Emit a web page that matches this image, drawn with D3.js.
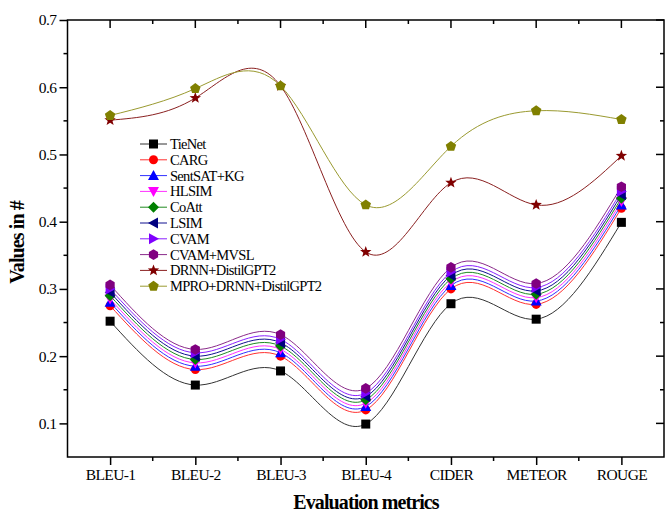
<!DOCTYPE html>
<html>
<head>
<meta charset="utf-8">
<script src="https://cdn.jsdelivr.net/npm/d3@7"></script>
<style>
body { margin: 0; background: #fff; }
svg text { font-family: "Liberation Serif", "Times New Roman", serif; }
</style>
</head>
<body>
<svg id="chart" width="665" height="515"></svg>
<script>
// categories on the x axis
var metrics = ["BLEU-1", "BLEU-2", "BLEU-3", "BLEU-4", "CIDER", "METEOR", "ROUGE"];
var yTicks = [0.1, 0.2, 0.3, 0.4, 0.5, 0.6, 0.7];

// values, one array per model
var tieNet    = [0.252, 0.157, 0.178, 0.099, 0.278, 0.255, 0.399];
var carg      = [0.275, 0.180, 0.200, 0.120, 0.300, 0.277, 0.420];
var sentSat   = [0.280, 0.185, 0.205, 0.125, 0.305, 0.282, 0.425];
var hlstm     = [0.285, 0.190, 0.210, 0.130, 0.310, 0.287, 0.430];
var coAtt     = [0.290, 0.195, 0.215, 0.135, 0.315, 0.292, 0.435];
var lstm      = [0.295, 0.200, 0.220, 0.140, 0.320, 0.297, 0.440];
var cvam      = [0.300, 0.205, 0.225, 0.145, 0.325, 0.302, 0.445];
var cvamMvsl  = [0.306, 0.210, 0.232, 0.152, 0.332, 0.308, 0.452];
var drnn      = [0.551, 0.584, 0.602, 0.355, 0.458, 0.425, 0.498];
var mpro      = [0.558, 0.598, 0.602, 0.425, 0.512, 0.565, 0.552];

var series = [
  {name: "TieNet", values: tieNet, color: "#000000", line: "#333333", sym: "square"},
  {name: "CARG", values: carg, color: "#ff0000", line: "#ff3030", sym: "circle"},
  {name: "SentSAT+KG", values: sentSat, color: "#0000ff", line: "#3030ff", sym: "tri"},
  {name: "HLSIM", values: hlstm, color: "#ff00ff", line: "#ff30ff", sym: "tridown"},
  {name: "CoAtt", values: coAtt, color: "#008000", line: "#208a20", sym: "diamond"},
  {name: "LSIM", values: lstm, color: "#000080", line: "#101090", sym: "trileft"},
  {name: "CVAM", values: cvam, color: "#8000ff", line: "#8a20ff", sym: "triright"},
  {name: "CVAM+MVSL", values: cvamMvsl, color: "#800080", line: "#8a2a8a", sym: "hex"},
  {name: "DRNN+DistilGPT2", values: drnn, color: "#800000", line: "#8a2020", sym: "star"},
  {name: "MPRO+DRNN+DistilGPT2", values: mpro, color: "#808000", line: "#9a9a30", sym: "penta"}
];

var svg = d3.select("#chart");
var plotL = 67.5, plotR = 664, plotT = 20, plotB = 457;

var x = d3.scalePoint().domain(metrics).range([plotL, plotR]).padding(0.5);
var y = d3.scaleLinear().domain([0.05, 0.7]).range([plotB, plotT]);
var step = x.step();

// symbol path generator
function symbolPath(sym, s) {
  var p = d3.path();
  function poly(pts) {
    p.moveTo(pts[0][0], pts[0][1]);
    for (var i = 1; i < pts.length; i++) p.lineTo(pts[i][0], pts[i][1]);
    p.closePath();
  }
  function reg(n, r, rot) {
    var pts = [];
    for (var i = 0; i < n; i++) {
      var a = rot + i * 2 * Math.PI / n;
      pts.push([r * Math.cos(a), r * Math.sin(a)]);
    }
    return pts;
  }
  var h = s / 2;
  if (sym == "square") poly([[-h, -h], [h, -h], [h, h], [-h, h]]);
  else if (sym == "circle") { p.arc(0, 0, h, 0, 2 * Math.PI); }
  else if (sym == "tri") poly([[0, -h - 1], [h + 1, h], [-h - 1, h]]);
  else if (sym == "tridown") poly([[0, h + 1], [h + 1, -h], [-h - 1, -h]]);
  else if (sym == "trileft") poly([[-h - 1, 0], [h, -h - 1], [h, h + 1]]);
  else if (sym == "triright") poly([[h + 1, 0], [-h, -h - 1], [-h, h + 1]]);
  else if (sym == "diamond") poly([[0, -h - 1], [h + 1, 0], [0, h + 1], [-h - 1, 0]]);
  else if (sym == "hex") poly(reg(6, h + 0.8, -Math.PI / 2));
  else if (sym == "penta") poly(reg(5, h + 1, -Math.PI / 2));
  else if (sym == "star") {
    var pts = [];
    for (var i = 0; i < 10; i++) {
      var r = i % 2 == 0 ? h + 1.5 : (h + 1.5) * 0.42;
      var a = -Math.PI / 2 + i * Math.PI / 5;
      pts.push([r * Math.cos(a), r * Math.sin(a)]);
    }
    poly(pts);
  }
  return p.toString();
}

var line = d3.line()
  .x(function (d, i) { return x(metrics[i]); })
  .y(function (d) { return y(d); })
  .curve(d3.curveNatural);

// lines
series.forEach(function (s) {
  svg.append("path").attr("d", line(s.values))
    .attr("fill", "none").attr("stroke", s.line).attr("stroke-width", 1);
});
// markers
series.forEach(function (s) {
  svg.append("g").selectAll("path").data(s.values).enter().append("path")
    .attr("transform", function (d, i) { return "translate(" + x(metrics[i]) + "," + y(d) + ")"; })
    .attr("d", symbolPath(s.sym, 9))
    .attr("fill", s.color);
});

// frame
svg.append("rect").attr("x", plotL).attr("y", plotT).attr("width", plotR - plotL).attr("height", plotB - plotT)
  .attr("fill", "none").attr("stroke", "#000").attr("stroke-width", 1.5);

var minorX = metrics.slice(0, -1).map(function (m) { return x(m) + step / 2; });
var minorY = [0.15, 0.25, 0.35, 0.45, 0.55, 0.65];

// bottom axis
var xAxis = svg.append("g").attr("transform", "translate(0," + plotB + ")")
  .call(d3.axisBottom(x).tickSize(8).tickPadding(4));
xAxis.select(".domain").remove();
xAxis.selectAll("line").attr("stroke-width", 1.5);
xAxis.selectAll("text").attr("font-size", 15.5).attr("fill", "#000").attr("letter-spacing", "-0.6px");
minorX.forEach(function (mx) {
  svg.append("line").attr("x1", mx).attr("x2", mx).attr("y1", plotB).attr("y2", plotB + 4)
    .attr("stroke", "#000").attr("stroke-width", 1.5);
});

// top ticks inward
metrics.forEach(function (m) {
  svg.append("line").attr("x1", x(m)).attr("x2", x(m)).attr("y1", plotT).attr("y2", plotT + 8)
    .attr("stroke", "#000").attr("stroke-width", 1.5);
});
minorX.forEach(function (mx) {
  svg.append("line").attr("x1", mx).attr("x2", mx).attr("y1", plotT).attr("y2", plotT + 4)
    .attr("stroke", "#000").attr("stroke-width", 1.5);
});

// left axis
var yAxis = svg.append("g").attr("transform", "translate(" + plotL + ",0)")
  .call(d3.axisLeft(y).tickValues(yTicks).tickFormat(d3.format(".1f")).tickSize(8).tickPadding(3));
yAxis.select(".domain").remove();
yAxis.selectAll("line").attr("stroke-width", 1.5);
yAxis.selectAll("text").attr("font-size", 15.5).attr("fill", "#000").attr("letter-spacing", "-0.5px");
minorY.forEach(function (v) {
  svg.append("line").attr("x1", plotL - 4).attr("x2", plotL).attr("y1", y(v)).attr("y2", y(v))
    .attr("stroke", "#000").attr("stroke-width", 1.5);
});

// right ticks inward
yTicks.forEach(function (v) {
  svg.append("line").attr("x1", plotR - 8).attr("x2", plotR).attr("y1", y(v)).attr("y2", y(v))
    .attr("stroke", "#000").attr("stroke-width", 1.5);
});
minorY.forEach(function (v) {
  svg.append("line").attr("x1", plotR - 4).attr("x2", plotR).attr("y1", y(v)).attr("y2", y(v))
    .attr("stroke", "#000").attr("stroke-width", 1.5);
});

// axis titles
svg.append("text").attr("x", 366).attr("y", 509).attr("text-anchor", "middle")
  .attr("font-size", 20).attr("font-weight", "bold").attr("letter-spacing", "-0.9px")
  .text("Evaluation metrics");
svg.append("text").attr("transform", "translate(24," + ((plotT + plotB) / 2 + 4) + ") rotate(-90)")
  .attr("text-anchor", "middle").attr("font-size", 20).attr("font-weight", "bold").attr("letter-spacing", "-0.9px")
  .text("Values in #");

// legend
var legend = svg.append("g").attr("transform", "translate(140,144)");
series.forEach(function (s, i) {
  var g = legend.append("g").attr("transform", "translate(0," + (i * 15.8) + ")");
  g.append("line").attr("x1", 0).attr("x2", 27).attr("stroke", s.line).attr("stroke-width", 1);
  g.append("path").attr("transform", "translate(13.5,0)").attr("d", symbolPath(s.sym, 9)).attr("fill", s.color);
  g.append("text").attr("x", 30).attr("y", 5).attr("font-size", 14.5).attr("letter-spacing", "-0.7px").text(s.name);
});
</script>
</body>
</html>
